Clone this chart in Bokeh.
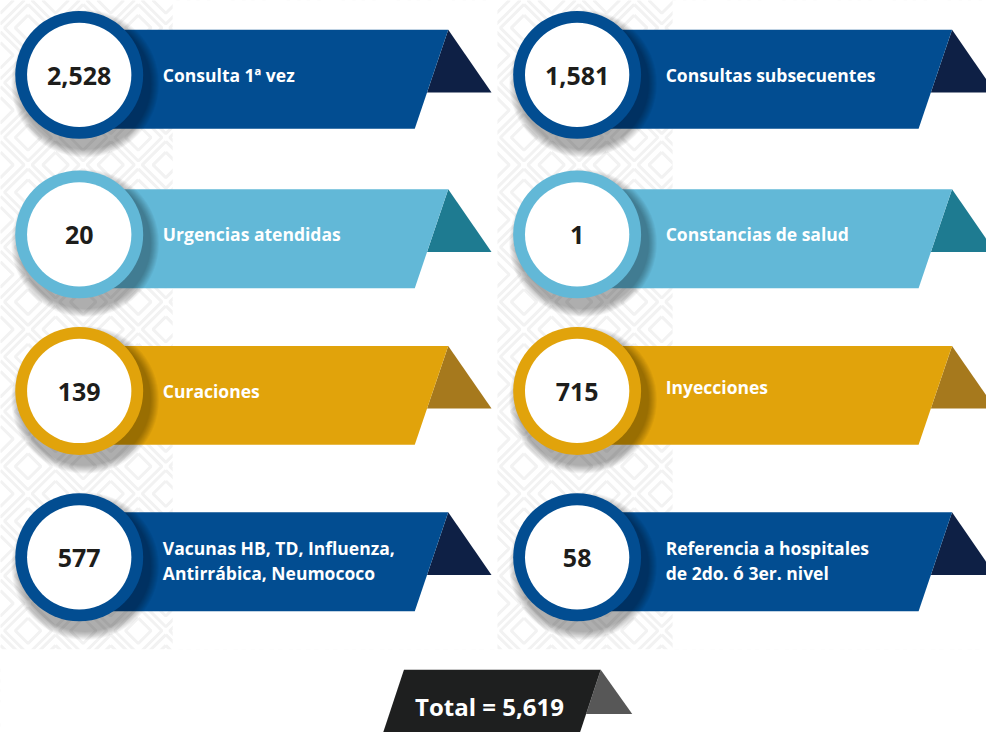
from bokeh.plotting import figure
from bokeh.models import Range1d
from bokeh.core.properties import value
from bokeh.embed import file_html
from bokeh.resources import INLINE

# ---------------- data ----------------
labels = [
    "Consulta 1ª vez",
    "Consultas subsecuentes",
    "Urgencias atendidas",
    "Constancias de salud",
    "Curaciones",
    "Inyecciones",
    "Vacunas HB, TD, Influenza,\nAntirrábica, Neumococo",
    "Referencia a hospitales\nde 2do. ó 3er. nivel",
]
values = [2528, 1581, 20, 1, 139, 715, 577, 58]
total_label = "Total"

# ---------------- styles / layout ----------------
row_colors = ["#024d91", "#62b8d7", "#e1a30b", "#024d91"]
fold_colors = ["#0e2045", "#1e7b91", "#a6791d", "#0e2045"]
row_tops = [30, 193, 353, 523]
band_h = 101
col_cx = [80, 586]
col_right = [455, 967]
col_label_x = [165, 676]
slant = 34
R_out, R_in = 65, 53
FONT = value("Open Sans")

W, H = 986, 732
p = figure(width=W, height=H, x_range=Range1d(0, 1002), y_range=Range1d(748, 0),
           output_backend="svg", toolbar_location=None, min_border=0)
p.axis.visible = False
p.grid.visible = False
p.outline_line_color = None
p.background_fill_color = "white"
p.border_fill_color = "white"

# ---------------- faint diamond background pattern ----------------
xs, ys = [], []
step = 56
for gx in range(-1, 20):
    for gy in range(-1, 28):
        cx = gx * step + (step / 2 if gy % 2 else 0)
        cy = gy * step / 2
        for hd in (24, 13):
            xs.append([cx, cx + hd, cx, cx - hd, cx])
            ys.append([cy - hd, cy, cy + hd, cy, cy - hd])
p.multi_line(xs, ys, line_color="#f2f2f2", line_width=3)
# white masks outside the patterned strips
p.quad(left=[175, 683, -20], right=[505, 1100, 1100], top=[-20, -20, 663], bottom=[663, 663, 800],
       fill_color="white", line_color=None)

# ---------------- items ----------------
for i, (lab, v) in enumerate(zip(labels, values)):
    c, r = i % 2, i // 2
    top = row_tops[r]
    bot = top + band_h
    cx = col_cx[c]
    cy = top + 46
    xr = col_right[c]
    col = row_colors[r]
    # fold triangle
    tip_y = top + 64
    fx = xr - slant * (tip_y - top) / band_h
    p.patch([xr, xr + 44, fx], [top, tip_y, tip_y], fill_color=fold_colors[r], line_color=None)
    # banner
    p.patch([cx, xr, xr - slant, cx], [top, top, bot, bot], fill_color=col, line_color=None)
    # shadow
    for k in range(9):
        p.circle(x=[cx + 6], y=[cy + 9], radius=R_out + 10 - k, fill_color="black",
                 fill_alpha=0.04, line_color=None)
    # ring + white disk
    p.circle(x=[cx], y=[cy], radius=R_out, fill_color=col, line_color=None)
    p.circle(x=[cx], y=[cy], radius=R_in, fill_color="white", line_color=None)
    # number
    p.text(x=[cx], y=[cy + 1], text=[f"{v:,}"], text_align="center", text_baseline="middle",
           text_font=FONT, text_font_style="bold", text_font_size="25px", text_color="#1d1d1b")
    # label
    lines = lab.split("\n")
    if len(lines) == 1:
        ly = [cy + (0 if r != 2 or c == 0 else -4)]
    else:
        ly = [cy - 10, cy + 16]
    p.text(x=[col_label_x[c]] * len(lines), y=ly, text=lines, text_align="left",
           text_baseline="middle", text_font=FONT, text_font_style="bold",
           text_font_size="17.5px", text_color="white")

# ---------------- total ----------------
total = sum(values)
t_top, t_bot = 684, 770
t_l, t_r = 410, 610
s = 0.33
p.patch([t_r, t_r + 32, t_r - s * 45], [t_top, t_top + 45, t_top + 45], fill_color="#575757", line_color=None)
p.patch([t_l, t_r, t_r - s * (t_bot - t_top), t_l - s * (t_bot - t_top)], [t_top, t_top, t_bot, t_bot],
        fill_color="#1e1f1f", line_color=None)
p.text(x=[497], y=[721], text=[f"{total_label} = {total:,}"], text_align="center",
       text_baseline="middle", text_font=FONT, text_font_style="bold", text_font_size="24px",
       text_color="white")

open("out.html", "w").write(file_html(p, INLINE))
